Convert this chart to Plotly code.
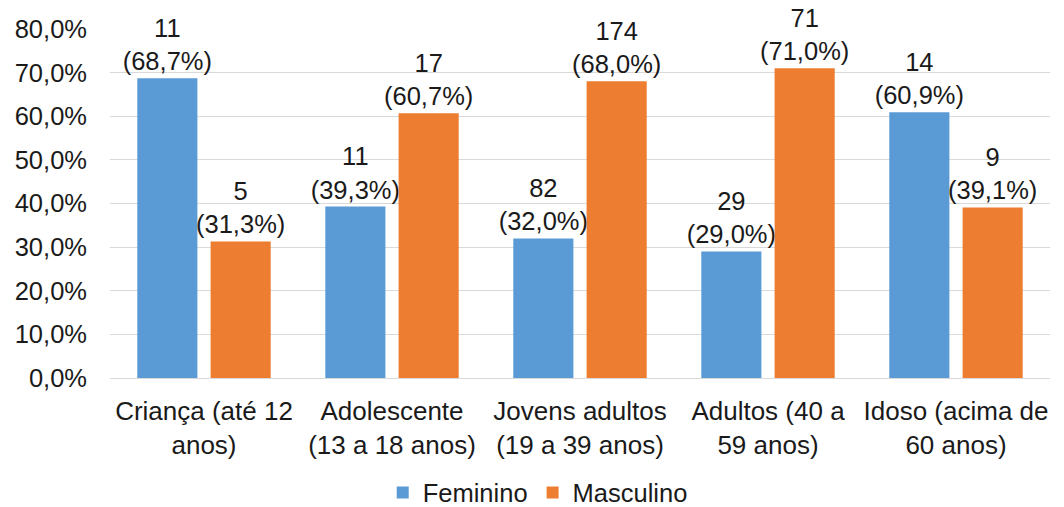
import plotly.graph_objects as go

categories = ["Criança (até 12<br>anos)", "Adolescente<br>(13 a 18 anos)", "Jovens adultos<br>(19 a 39 anos)",
              "Adultos (40 a<br>59 anos)", "Idoso (acima de<br>60 anos)"]
fem_counts = [11, 11, 82, 29, 14]
fem_pct = [68.7, 39.3, 32.0, 29.0, 60.9]
masc_counts = [5, 17, 174, 71, 9]
masc_pct = [31.3, 60.7, 68.0, 71.0, 39.1]
y_ticks = [0, 10, 20, 30, 40, 50, 60, 70, 80]
y_tick_text = [f"{v:.1f}%".replace(".", ",") for v in y_ticks]


def fmt(c, p):
    return f"{c}<br>({p:.1f}%)".replace(".", ",")


font = dict(family="Liberation Sans, Arial, sans-serif", size=25.5, color="#1a1a1a")
xfont = dict(family="Liberation Sans, Arial, sans-serif", size=26, color="#1a1a1a")

fig = go.Figure()
fig.add_trace(go.Bar(
    x=categories, y=fem_pct, name="Feminino",
    marker=dict(color="#5b9bd5", line=dict(width=10, color="rgba(0,0,0,0)")),
    text=[fmt(c, p) for c, p in zip(fem_counts, fem_pct)],
    textposition="outside", textfont=font, cliponaxis=False, constraintext="none",
))
fig.add_trace(go.Bar(
    x=categories, y=masc_pct, name="Masculino",
    marker=dict(color="#ed7d31", line=dict(width=10, color="rgba(0,0,0,0)")),
    text=[fmt(c, p) for c, p in zip(masc_counts, masc_pct)],
    textposition="outside", textfont=font, cliponaxis=False, constraintext="none",
))

fig.update_layout(
    width=1064, height=507,
    margin=dict(l=110, r=14, t=29, b=129, autoexpand=False),
    paper_bgcolor="white", plot_bgcolor="white",
    font=font,
    separators=",.",
    barmode="group", bargap=0.22, bargroupgap=0.18,
    showlegend=True,
    legend=dict(orientation="h", x=0.455, xanchor="center", yref="container", y=0.028,
                yanchor="middle", font=font, traceorder="normal"),
)
fig.update_yaxes(range=[0, 80], tickmode="array", tickvals=y_ticks, ticktext=y_tick_text,
                 showgrid=True, gridcolor="#d9d9d9", gridwidth=1,
                 zeroline=True, zerolinecolor="#d9d9d9", zerolinewidth=1,
                 showline=False, ticks="", tickfont=font, ticklabelstandoff=22, automargin=False)
fig.update_xaxes(showgrid=False, showline=True, linecolor="#d9d9d9", ticks="", tickfont=xfont,
                 ticklabelstandoff=10, automargin=False)

fig.write_html("out.html")
